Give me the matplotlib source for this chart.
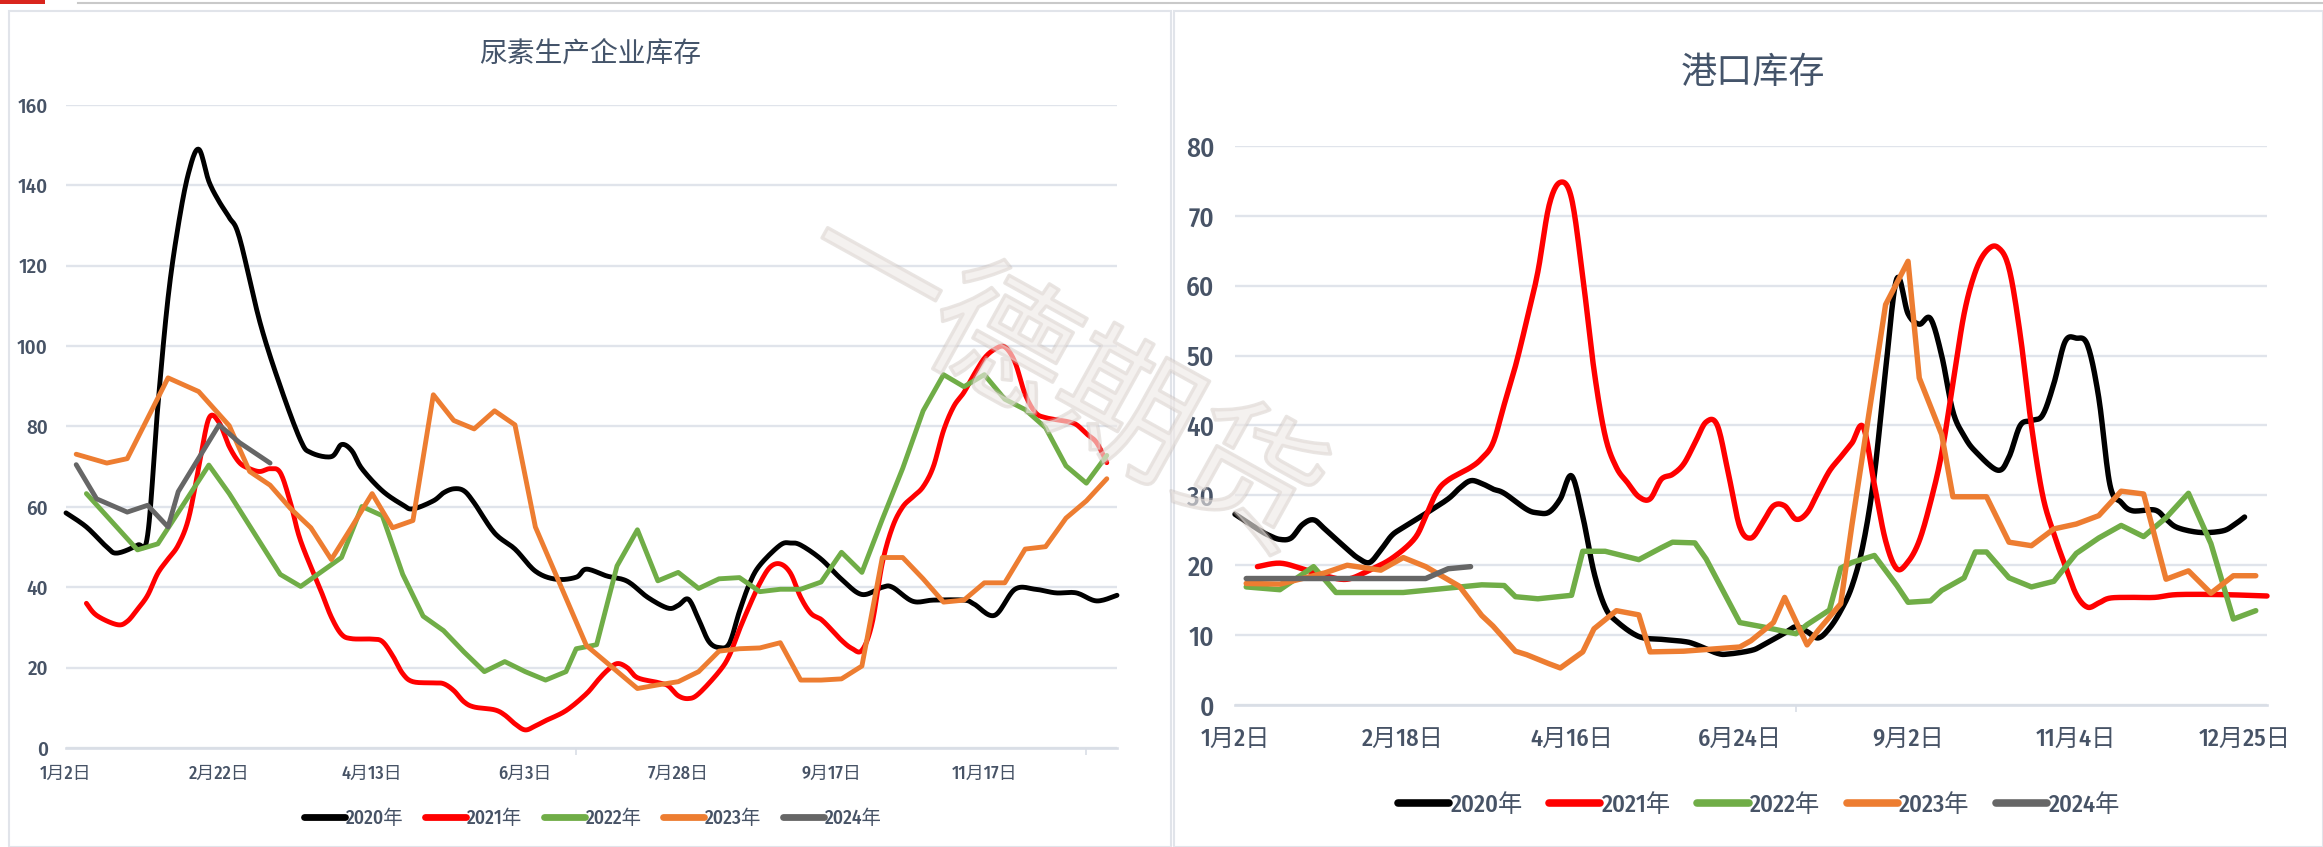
import numpy as np
import matplotlib
matplotlib.use("Agg")
import matplotlib.pyplot as plt
import matplotlib.patheffects as pe
from matplotlib.patches import Rectangle
from matplotlib.lines import Line2D

plt.rcParams['font.family'] = ['Fira Sans Condensed', 'Noto Sans CJK SC', 'DejaVu Sans']

# ---------------- data: 尿素生产企业库存 (left) ----------------
left_title = "尿素生产企业库存"
left_xlabels = ['1月2日', '2月22日', '4月13日', '6月3日', '7月28日', '9月17日', '11月17日']
left_ncat = 104
years = ['2020年', '2021年', '2022年', '2023年', '2024年']

L2020_x = [0, 2, 4, 5, 7, 8, 9, 10, 11, 12, 13, 14, 15, 16, 17, 19, 21, 23, 24, 26, 27, 28, 29, 31, 33, 34, 36, 37, 38, 39, 40,
           42, 44, 46, 48, 50, 51, 53, 55, 57, 59, 60, 61, 62, 63, 64, 65, 66, 67, 68, 70, 71, 72, 74, 76, 78, 80, 81,
           83, 85, 88, 89, 91, 93, 95, 97, 99, 101, 103]
L2020_v = [58.5, 55, 50, 48.5, 50.5, 53, 85, 112, 130, 143, 149, 141, 136, 132, 127, 106, 90, 76.5, 73.5, 72.5, 75.5, 74,
           69.5, 64, 60.5, 59.5, 61.5, 63.5, 64.5, 64, 61, 53.5, 49.5, 44, 42, 42.5, 44.5, 42.8, 41.5, 37.5, 34.8, 35.5,
           37, 32, 26.5, 25, 26, 34, 41, 45.5, 50.5, 51, 50.5, 47, 42, 38.2, 40, 40, 36.5, 36.8, 36.8, 35.8, 33, 39.5,
           39.5, 38.6, 38.6, 36.6, 38]
L2021_x = [2, 3, 5, 6, 7, 8, 9, 10, 11, 12, 13, 14, 15, 16, 17, 18, 19, 20, 21, 22, 23, 25, 26, 27, 28, 30, 31, 32, 33, 34,
           36, 37, 38, 39, 40, 42, 43, 44, 45, 46, 47, 49, 51, 52, 53, 54, 55, 56, 58, 59, 60, 61, 62, 64, 65, 66, 67,
           68, 69, 70, 71, 72, 73, 74, 75, 76, 77, 78, 79, 80, 81, 82, 83, 84, 85, 86, 87, 88, 89, 90, 91, 92, 93, 94,
           95, 96, 98, 99, 100, 101, 102]
L2021_v = [36, 33, 30.7, 31.5, 34.5, 38, 43.5, 47, 50.5, 57, 69.6, 82, 81, 75, 71, 69.5, 68.8, 69.5, 68.5, 61, 51.5, 39,
           32.6, 28.3, 27.2, 27.1, 26.5, 23, 18.5, 16.5, 16.2, 16, 14.3, 11.5, 10.2, 9.5, 8.2, 6, 4.5, 5.5, 6.8, 9.3,
           13.5, 16.5, 19.2, 21, 20, 17.5, 16.3, 15.5, 13, 12.3, 13.5, 19, 23, 29.5, 35.5, 41, 45, 45.8, 43.5, 37.5,
           33.5, 32, 29.5, 26.8, 24.8, 24.3, 31, 46, 55, 60, 62.5, 65, 70, 79, 85, 88.5, 93, 97, 99.2, 99.8, 96, 88,
           83.5, 82.2, 81.3, 80.5, 78.2, 76, 71]
L2022_x = [2, 4, 7, 9, 14, 16, 21, 23, 27, 29, 31, 33, 35, 37, 39, 41, 43, 45, 47, 49, 50, 52, 54, 56, 58, 60, 62, 64, 66,
           68, 70, 72, 74, 76, 78, 80, 82, 84, 86, 88, 90, 92, 94, 96, 98, 100, 102]
L2022_v = [63.3, 57.7, 49.3, 50.8, 70.4, 63.3, 43.2, 40.2, 47.4, 60.1, 57.8, 43.2, 32.8, 29.2, 23.9, 19, 21.5, 19, 16.9,
           19, 24.7, 25.7, 45.3, 54.3, 41.6, 43.7, 39.7, 42.1, 42.4, 38.9, 39.5, 39.5, 41.3, 48.7, 43.7, 56.9, 69.6,
           83.9, 92.9, 89.9, 92.9, 86.8, 84.2, 79.7, 70.2, 65.9, 72.8]
L2023_x = [1, 4, 6, 10, 13, 16, 18, 20, 22, 24, 26, 28, 30, 32, 34, 36, 38, 40, 42, 44, 46, 51, 56, 58, 60, 62, 64, 66, 68,
           70, 72, 74, 76, 78, 80, 82, 84, 86, 88, 90, 92, 94, 96, 98, 100, 102]
L2023_v = [73.1, 70.9, 72, 92.1, 88.7, 80.2, 68.8, 65.4, 59.6, 54.8, 46.9, 55, 63.3, 54.8, 56.6, 87.9, 81.5, 79.4, 83.9,
           80.4, 55, 25.5, 14.8, 15.7, 16.5, 19, 24.1, 24.7, 24.9, 26.2, 16.9, 16.9, 17.2, 20.4, 47.4, 47.4, 42.1, 36.3,
           36.8, 41.1, 41.1, 49.5, 50.1, 57.2, 61.5, 67]
L2024_x = [1, 3, 6, 8, 10, 11, 15, 17, 20]
L2024_v = [70.5, 62, 58.7, 60.4, 55, 63.8, 80.4, 76, 70.9]

# ---------------- data: 港口库存 (right) ----------------
right_title = "港口库存"
right_xlabels = ['1月2日', '2月18日', '4月16日', '6月24日', '9月2日', '11月4日', '12月25日']
right_ncat = 93

R2020_x = [0, 2, 3, 4, 5, 6, 7, 8, 10, 11, 12, 13, 14, 15, 17, 19, 20, 21, 22, 23, 24, 26, 27, 28, 29, 30, 31, 32, 33, 34,
           36, 38, 40, 41, 43, 44, 46, 47, 49, 50, 51, 52, 53, 54, 55, 56, 57, 58, 59, 60, 61, 62, 63, 64, 65, 66, 68,
           69, 70, 71, 72, 73, 74, 75, 76, 77, 78, 79, 80, 82, 83, 84, 86, 88, 89, 90]
R2020_v = [27.3, 25.2, 24.3, 23.7, 23.9, 25.8, 26.5, 25.2, 22.3, 21, 20.4, 22.2, 24.3, 25.4, 27.4, 29.5, 31, 32.1, 31.7,
           30.9, 30.3, 28, 27.5, 27.6, 29.5, 32.8, 27, 19, 14, 12, 9.8, 9.4, 9.1, 8.7, 7.4, 7.3, 7.8, 8.5, 10.3, 11.2,
           10.5, 9.6, 11, 13.5, 17, 23, 33, 48, 61, 56, 54.5, 55.3, 50, 42, 38.5, 36.3, 33.6, 35.5, 40, 40.7, 41.5, 46,
           52, 52.5, 51.5, 44, 31.5, 29, 27.8, 27.9, 26.6, 25.4, 24.7, 24.9, 25.7, 26.9]
R2021_x = [2, 4, 6, 8, 10, 12, 14, 16, 17, 18, 19, 21, 22, 23, 24, 25, 26, 27, 28, 29, 30, 31, 32, 33, 34, 35, 36, 37, 38,
           39, 40, 41, 42, 43, 44, 45, 46, 47, 48, 49, 50, 51, 52, 53, 54, 55, 56, 57, 58, 59, 60, 61, 62, 63, 64, 65,
           66, 67, 68, 69, 70, 71, 72, 73, 74, 75, 76, 77, 78, 80, 82, 84, 88, 92]
R2021_v = [19.8, 20.3, 19.5, 18.5, 18, 19.3, 21, 23.8, 27, 30.5, 32.2, 34, 35.3, 37.5, 43, 48.5, 55, 62, 71.5, 74.8, 72.5,
           61.3, 48, 38.5, 34, 31.8, 29.8, 29.5, 32.3, 33, 34.5, 37.5, 40.5, 40, 33, 25.5, 23.9, 26, 28.5, 28.5, 26.6,
           27.5, 30.5, 33.5, 35.5, 37.5, 39.8, 31.5, 23.5, 19.5, 20.5, 23.5, 29, 36, 46, 56, 62, 65, 65.5, 62.5, 53,
           40, 30, 24.5, 20, 15.8, 14, 14.6, 15.3, 15.4, 15.4, 15.8, 15.8, 15.6]
R2022_x = [1, 4, 7, 9, 15, 22, 24, 25, 27, 30, 31, 33, 34, 36, 38, 39, 41, 42, 45, 47, 50, 51, 53, 54, 55, 57, 59, 60, 62,
           63, 65, 66, 67, 69, 71, 73, 75, 77, 79, 81, 83, 85, 87, 89, 91]
R2022_v = [16.9, 16.5, 19.8, 16.1, 16.1, 17.2, 17.1, 15.5, 15.2, 15.7, 22, 22, 21.6, 20.8, 22.5, 23.3, 23.2, 20.9, 11.8,
           11.2, 10.2, 11.5, 13.6, 19.6, 20.4, 21.4, 17.1, 14.7, 14.9, 16.4, 18.2, 21.9, 21.9, 18.2, 16.9, 17.7, 21.7,
           23.9, 25.7, 24.1, 26.8, 30.3, 23.1, 12.3, 13.5]
R2023_x = [1, 4, 8, 10, 13, 15, 17, 20, 22, 23, 25, 26, 28, 29, 31, 32, 34, 36, 37, 40, 45, 46, 48, 49, 51, 52, 54, 55,
           58, 60, 61, 63, 64, 67, 69, 71, 73, 75, 77, 79, 81, 83, 85, 87, 89, 91]
R2023_v = [17.4, 17.3, 18.9, 20, 19.3, 21.1, 19.8, 17, 12.8, 11.3, 7.7, 7.2, 5.9, 5.3, 7.6, 10.9, 13.5, 12.9, 7.6, 7.7,
           8.3, 9.2, 11.8, 15.4, 8.6, 10.7, 14.5, 25.8, 57.3, 63.5, 46.8, 38.7, 29.8, 29.8, 23.3, 22.8, 25.2, 25.9,
           27.1, 30.6, 30.2, 18, 19.2, 16, 18.5, 18.5]
R2024_x = [1, 17, 19, 21]
R2024_v = [18.1, 18.1, 19.5, 19.8]

colors = ['#000000', '#FF0000', '#70AD47', '#ED7D31', '#666666']
smooth_flags = [True, True, False, False, False]

W, H = 2323, 847
TXT = '#475366'
TITLE = '#44546A'
GRID = '#E0E4EB'


def smooth_path(xs, ys, n=14):
    """Excel-style smoothed line: cubic Bezier through the points."""
    p = np.column_stack([np.asarray(xs, float), np.asarray(ys, float)])
    if len(p) < 3:
        return p[:, 0], p[:, 1]
    ext = np.vstack([p[0], p, p[-1]])
    t = np.linspace(0, 1, n)[:, None]
    segs = []
    for i in range(len(p) - 1):
        p0, p1, p2, p3 = ext[i], ext[i + 1], ext[i + 2], ext[i + 3]
        c1 = p1 + (p2 - p0) / 6.0
        c2 = p2 - (p3 - p1) / 6.0
        b = ((1 - t) ** 3) * p1 + 3 * ((1 - t) ** 2) * t * c1 + 3 * (1 - t) * t ** 2 * c2 + t ** 3 * p2
        segs.append(b if i == 0 else b[1:])
    s = np.vstack(segs)
    return s[:, 0], s[:, 1]


fig = plt.figure(figsize=(W / 100, H / 100), dpi=100)
fig.patch.set_facecolor('white')

# panel frames and top strip
fig.add_artist(Rectangle((9 / W, 0), (1171 - 9) / W, (H - 11) / H, transform=fig.transFigure,
                         facecolor='white', edgecolor='#E1E4EA', lw=1.5, zorder=-5))
fig.add_artist(Rectangle((1174 / W, 0), (W - 1174) / W, (H - 11) / H, transform=fig.transFigure,
                         facecolor='white', edgecolor='#E1E4EA', lw=1.5, zorder=-5))
fig.add_artist(Line2D([78 / W, 1], [1 - 3 / H, 1 - 3 / H], transform=fig.transFigure, color='#C9C9C9', lw=1.5))
fig.add_artist(Rectangle((0, 1 - 4 / H), 45 / W, 4 / H, transform=fig.transFigure, facecolor='#D9251D',
                         edgecolor='none'))


def draw_panel(rect, ncat, xlabels, ymax, ystep, series, title, title_xy, title_fs,
               tick_fs, xtick_fs, ypad, xpad, leg_y, leg_x, leg_fs, handle_len, col_sp, lw):
    ax = fig.add_axes(rect)
    ax.set_facecolor('none')
    ax.set_xlim(0, ncat - 1)
    ax.set_ylim(0, ymax)
    ax.set_yticks(np.arange(0, ymax + 1, ystep))
    ax.yaxis.grid(True, color=GRID, lw=1.7)
    ax.set_axisbelow(True)
    for s in ['top', 'right', 'left']:
        ax.spines[s].set_visible(False)
    ax.spines['bottom'].set_color('#D9DEE6')
    ax.spines['bottom'].set_linewidth(1.9)
    ax.set_xticks(np.arange(0, ncat, 15))
    ax.set_xticklabels(xlabels)
    ax.set_xticks(np.arange(0, ncat, 50), minor=True)
    ax.tick_params(axis='x', which='major', length=0, pad=xpad, labelsize=xtick_fs, labelcolor=TXT)
    ax.tick_params(axis='x', which='minor', length=5, width=1.2, color='#D9DEE6')
    ax.tick_params(axis='y', length=0, pad=ypad, labelsize=tick_fs, labelcolor=TXT)
    for lab in ax.get_xticklabels() + ax.get_yticklabels():
        lab.set_fontweight('medium')
    handles = []
    for (xs, vs), col, sm, lab in zip(series, colors, smooth_flags, years):
        if sm:
            px, py = smooth_path(xs, vs)
        else:
            px, py = xs, vs
        ax.plot(px, py, color=col, lw=lw, solid_capstyle='round', solid_joinstyle='round', clip_on=False)
        handles.append(Line2D([], [], color=col, lw=lw * 1.4, solid_capstyle='round', label=lab))
    fig.text(title_xy[0] / W, 1 - title_xy[1] / H, title, ha='center', va='center', fontsize=title_fs,
             color=TITLE, family=['Noto Sans CJK SC'])
    leg = fig.legend(handles=handles, loc='center', bbox_to_anchor=(leg_x / W, 1 - leg_y / H), ncol=5,
                     frameon=False, fontsize=leg_fs, handlelength=handle_len, handletextpad=0.05,
                     columnspacing=col_sp, labelcolor=TXT)
    for t in leg.get_texts():
        t.set_fontweight('medium')
    return ax


left_series = [(L2020_x, L2020_v), (L2021_x, L2021_v), (L2022_x, L2022_v), (L2023_x, L2023_v), (L2024_x, L2024_v)]
right_series = [(R2020_x, R2020_v), (R2021_x, R2021_v), (R2022_x, R2022_v), (R2023_x, R2023_v), (R2024_x, R2024_v)]

draw_panel([66 / W, 1 - 748 / H, 1051 / W, 643 / H], left_ncat, left_xlabels, 160, 20, left_series,
           left_title, (590, 54), 20, 15, 13, 13, 12, 818, 593, 14, 2.1, 1.1, 3.5)
draw_panel([1235 / W, 1 - 705 / H, 1032 / W, 559 / H], right_ncat, right_xlabels, 80, 10, right_series,
           right_title, (1753, 73), 26, 19.5, 17.5, 15, 16, 805, 1759, 17.5, 2.1, 1.1, 3.9)

# watermark
fig.text(1060 / W, 1 - 380 / H, '一德期货', rotation=-29, ha='center', va='center', fontsize=102,
         color='#EEE9E6', alpha=0.38, family=['Noto Sans CJK SC'], zorder=10,
         path_effects=[pe.Stroke(linewidth=2.5, foreground='#C9BEB8', alpha=0.4), pe.Normal()])

fig.savefig('out.png', dpi=100, facecolor='white')
